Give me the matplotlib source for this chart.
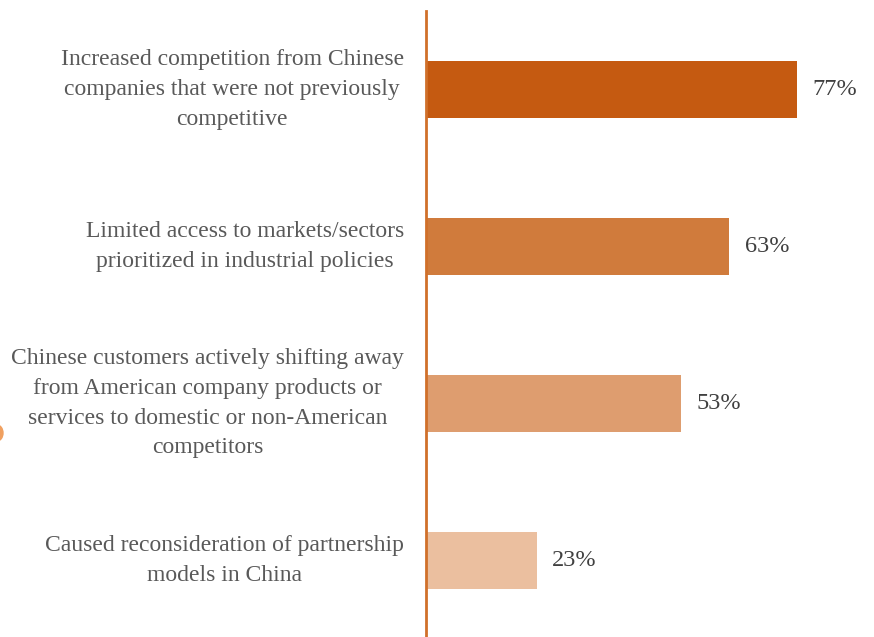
import matplotlib
matplotlib.use("Agg")
import matplotlib.pyplot as plt
from matplotlib.patches import Ellipse

categories = [
    "Increased competition from Chinese\ncompanies that were not previously\ncompetitive",
    "Limited access to markets/sectors\nprioritized in industrial policies",
    "Chinese customers actively shifting away\nfrom American company products or\nservices to domestic or non-American\ncompetitors",
    "Caused reconsideration of partnership\nmodels in China",
]
values = [77, 63, 53, 23]
value_labels = ["77%", "63%", "53%", "23%"]
bar_colors = ["#C55A11", "#D07B3C", "#DE9D6F", "#EBBF9F"]

plt.rcParams["font.family"] = ["Liberation Serif", "DejaVu Serif"]

W, H = 874, 637
fig = plt.figure(figsize=(W / 100, H / 100), dpi=100)
ax = fig.add_axes([426 / W, 0, (W - 426) / W, (H - 11) / H])

pos = list(range(len(values)))
ax.barh(pos, values, height=0.363, color=bar_colors, zorder=2)
ax.set_xlim(0, 93)
ax.set_ylim(3.49, -0.5)

for s in ["top", "right", "bottom"]:
    ax.spines[s].set_visible(False)
ax.spines["left"].set_color("#D0702A")
ax.spines["left"].set_linewidth(2)
ax.set_xticks([])
ax.set_yticks([])

for p, v, lab in zip(pos, values, value_labels):
    ax.annotate(lab, (v, p), xytext=(11, 0), textcoords="offset points",
                ha="left", va="center", fontsize=17.5, color="#404040")

for p, cat in zip(pos, categories):
    ax.annotate(cat, (0, p), xytext=(-16, 0), textcoords="offset points",
                ha="right", va="center", multialignment="center",
                fontsize=17, color="#595959", linespacing=1.55)

# small decorative shape at the left edge
fig.patches.append(Ellipse((-3 / W, 1 - 433 / H), 12 / W, 16 / H,
                           transform=fig.transFigure, color="#F0A060",
                           zorder=5))

fig.savefig("out.png", dpi=100)
